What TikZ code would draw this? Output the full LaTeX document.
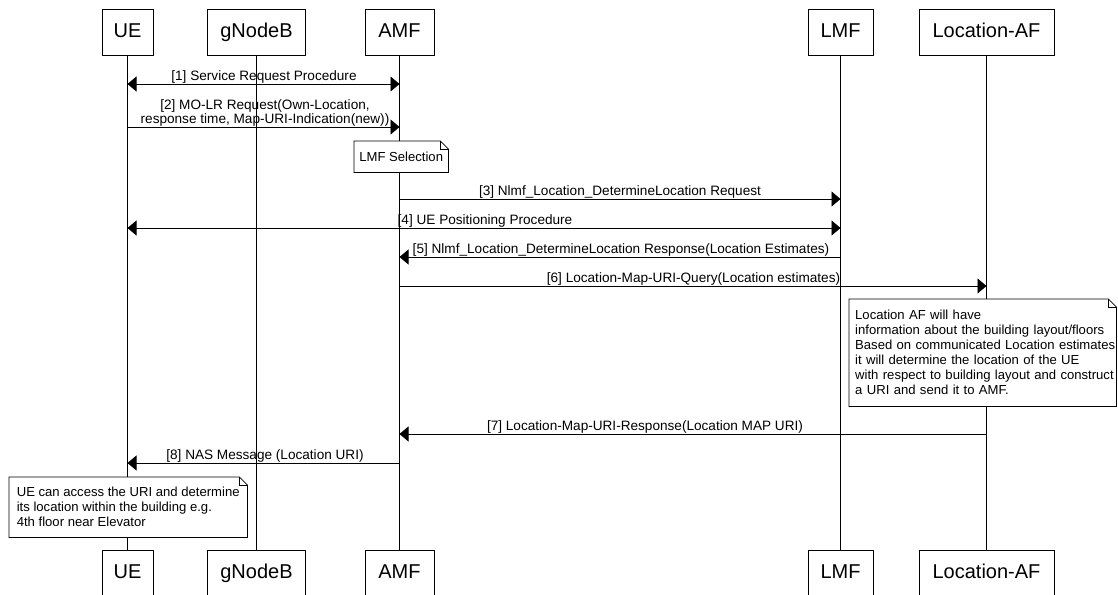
\documentclass[tikz,border=0pt]{standalone}
\usepackage{fontspec}
\setmainfont{Liberation Sans}
\usetikzlibrary{arrows.meta}
\newcommand\dogear[1]{%
  \draw[line width=0.8pt] (#1.south west) -- (#1.north west) -- ([xshift=-8pt]#1.north east)
    -- ([yshift=-8pt]#1.north east) -- (#1.south east) -- cycle;
  \draw[line width=0.6pt] ([xshift=-8pt]#1.north east) -- ([xshift=-8pt,yshift=-8pt]#1.north east)
    -- ([yshift=-8pt]#1.north east);}
\tikzset{
  actor/.style={draw, line width=0.8pt, fill=white, minimum height=46pt, inner sep=0pt,
    text height=14.5pt, text depth=4pt, font=\fontsize{20}{22}\selectfont},
  life/.style={draw, line width=0.8pt},
  msg/.style={-{Triangle[length=9pt,width=15pt]}, line width=0.8pt},
  dmsg/.style={{Triangle[length=9pt,width=15pt]}-{Triangle[length=9pt,width=15pt]}, line width=0.8pt},
  lbl/.style={font=\fontsize{13.6}{14}\selectfont, anchor=base, inner sep=0pt},
  note/.style={fill=white, align=left, anchor=north west, inner ysep=3pt,
    font=\fontsize{13.1}{15}\selectfont}
}
\begin{document}
\begin{tikzpicture}[x=1pt,y=-1pt]
\useasboundingbox (0,0) rectangle (1118,594);
\clip (0,0) rectangle (1118,594);
\fill[white] (0,0) rectangle (1118,594);

% actors top
\node[actor, minimum width=51pt]  (UEt)  at (127.5,32) {UE};
\node[actor, minimum width=98pt]  (GNt)  at (256.5,32) {gNodeB};
\node[actor, minimum width=69pt]  (AMFt) at (399.5,32) {AMF};
\node[actor, minimum width=65pt]  (LMFt) at (840.5,32) {LMF};
\node[actor, minimum width=135pt] (AFt)  at (986.5,32) {Location-AF};
% actors bottom
\node[actor, minimum width=51pt]  (UEb)  at (127.5,573) {UE};
\node[actor, minimum width=98pt]  (GNb)  at (256.5,573) {gNodeB};
\node[actor, minimum width=69pt]  (AMFb) at (399.5,573) {AMF};
\node[actor, minimum width=65pt]  (LMFb) at (840.5,573) {LMF};
\node[actor, minimum width=135pt] (AFb)  at (986.5,573) {Location-AF};

% lifelines
\draw[life] (UEt) -- (UEb);
\draw[life] (GNt) -- (GNb);
\draw[life] (AMFt) -- (AMFb);
\draw[life] (LMFt) -- (LMFb);
\draw[life] (AFt) -- (AFb);

% message anchor points
\coordinate (m1a) at (UEt |- 0,84);   \coordinate (m1b) at (AMFt |- 0,84);
\coordinate (m2a) at (UEt |- 0,127);  \coordinate (m2b) at (AMFt |- 0,127);
\coordinate (m3a) at (AMFt |- 0,199); \coordinate (m3b) at (LMFt |- 0,199);
\coordinate (m4a) at (UEt |- 0,228);  \coordinate (m4b) at (LMFt |- 0,228);
\coordinate (m5a) at (LMFt |- 0,257); \coordinate (m5b) at (AMFt |- 0,257);
\coordinate (m6a) at (AMFt |- 0,286); \coordinate (m6b) at (AFt |- 0,286);
\coordinate (m7a) at (AFt |- 0,434);  \coordinate (m7b) at (AMFt |- 0,434);
\coordinate (m8a) at (AMFt |- 0,463); \coordinate (m8b) at (UEt |- 0,463);

\draw[dmsg] (m1a) -- (m1b);
\node[lbl] (l1) at (264,80.5) {[1] Service Request Procedure};

\draw[msg] (m2a) -- (m2b);
\node[lbl, anchor=south, align=center, font=\fontsize{13.6}{13.5}\selectfont] (l2) at (265,126.5)
  {[2] MO-LR Request(Own-Location,\\response time, Map-URI-Indication(new))};

\node[note, minimum width=94pt, minimum height=31pt, inner xsep=4pt] (selnote) at (354,141) {LMF Selection};
\dogear{selnote}

\draw[msg] (m3a) -- (m3b);
\node[lbl] (l3) at (620,195.5) {[3] Nlmf\_Location\_DetermineLocation Request};

\draw[dmsg] (m4a) -- (m4b);
\node[lbl] (l4) at (485,224.5) {[4] UE Positioning Procedure};

\draw[msg] (m5a) -- (m5b);
\node[lbl] (l5) at (621,253.5) {[5] Nlmf\_Location\_DetermineLocation Response(Location Estimates)};

\draw[msg] (m6a) -- (m6b);
\node[lbl] (l6) at (693.5,282.5) {[6] Location-Map-URI-Query(Location estimates)};

\node[note, text width=255pt, minimum height=107pt, inner xsep=6pt] (afnote) at (849,299)
  {\mbox{Location AF will have}\\\mbox{information about the building layout/floors}\\\mbox{Based on communicated Location estimates}\\\mbox{it will determine the location of the UE}\\\mbox{with respect to building layout and construct}\\\mbox{a URI and send it to AMF.}};
\dogear{afnote}

\draw[msg] (m7a) -- (m7b);
\node[lbl] (l7) at (645,430.5) {[7] Location-Map-URI-Response(Location MAP URI)};

\draw[msg] (m8a) -- (m8b);
\node[lbl] (l8) at (265,459.5) {[8] NAS Message (Location URI)};

\node[note, minimum width=238pt, minimum height=60pt, inner xsep=5pt] (uenote) at (9,477)
  {UE can access the URI and determine\\its location within the building e.g.\\4th floor near Elevator};
\dogear{uenote}
\end{tikzpicture}
\end{document}
